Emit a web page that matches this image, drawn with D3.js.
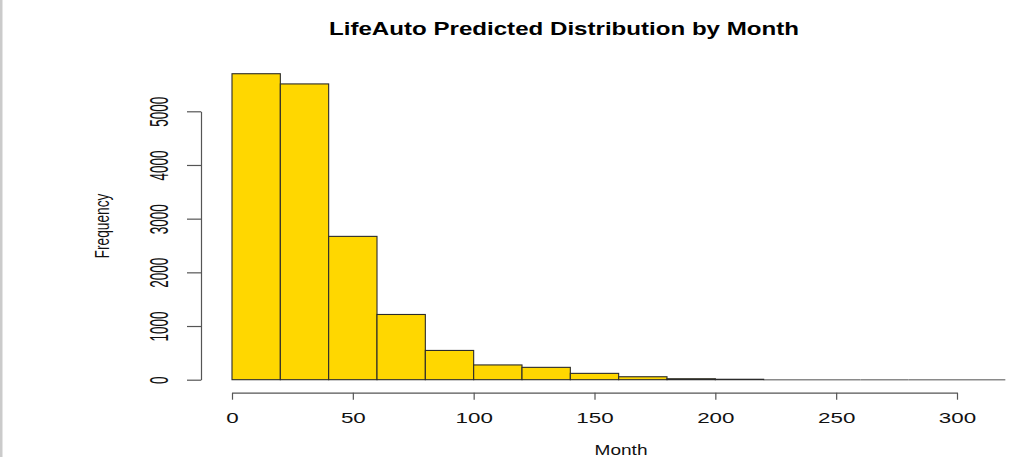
<!DOCTYPE html>
<html>
<head>
<meta charset="utf-8">
<script src="https://cdn.jsdelivr.net/npm/d3@7"></script>
<style>
	body { margin: 0; background: #fff; }
	svg { display: block; font-family: "Liberation Sans", Arial, sans-serif; }
</style>
</head>
<body>
<svg id="chart" width="1009" height="457"></svg>
<script>

// histogram bins (month), 20 wide
const binStarts = [0, 20, 40, 60, 80, 100, 120, 140, 160, 180, 200, 220, 240, 260, 280, 300];
const binWidth = 20;
const counts = [5700, 5510, 2670, 1215, 545, 275, 230, 118, 55, 18, 8, 0, 0, 0, 0, 0];

const xTicks = [0, 50, 100, 150, 200, 250, 300];
const yTicks = [0, 1000, 2000, 3000, 4000, 5000];

const titleText = "LifeAuto Predicted Distribution by Month";
const xLabel = "Month";
const yLabel = "Frequency";

const svg = d3.select("#chart");

// thin grey border at the left edge
svg.append("rect")
	.attr("x", 0).attr("y", 0)
	.attr("width", 2.5).attr("height", 457)
	.attr("fill", "#cbcbcb");

const x = d3.scaleLinear()
	.domain([0, 300])
	.range([232, 957]);

const y = d3.scaleLinear()
	.domain([0, 5000])
	.range([379.7, 111.3]);

const bins = binStarts.map((d, i) => ({ x0: d, x1: d + binWidth, n: counts[i] }));

// empty bins collapse to a flat grey outline on the baseline
svg.append("g")
	.selectAll("line")
	.data(bins.filter(b => b.n === 0))
	.join("line")
		.attr("x1", d => x(d.x0))
		.attr("x2", d => x(d.x1))
		.attr("y1", y(0))
		.attr("y2", y(0))
		.attr("stroke", "#8a8a8a")
		.attr("stroke-width", 1.6);

// bars
svg.append("g")
	.selectAll("rect")
	.data(bins.filter(b => b.n > 0))
	.join("rect")
		.attr("x", d => x(d.x0))
		.attr("width", d => x(d.x1) - x(d.x0))
		.attr("y", d => y(d.n))
		.attr("height", d => y(0) - y(d.n))
		.attr("fill", "#FFD700")
		.attr("stroke", "#2b2b2b")
		.attr("stroke-width", 1.1);

// x axis
const xAxis = svg.append("g")
	.attr("transform", "translate(0,392.7)")
	.call(d3.axisBottom(x)
		.tickValues(xTicks)
		.tickSize(7)
		.tickSizeOuter(0));

xAxis.select(".domain").attr("stroke", "#555").attr("stroke-width", 1.2);
xAxis.selectAll(".tick line").attr("stroke", "#555").attr("stroke-width", 1.2);
xAxis.selectAll(".tick text")
	.attr("y", 30.5)
	.attr("dy", null)
	.attr("font-size", 14)
	.attr("fill", "#111")
	.attr("transform", "scale(1.6,1)");

// y axis
const yAxis = svg.append("g")
	.attr("transform", "translate(201,0)")
	.call(d3.axisLeft(y)
		.tickValues(yTicks)
		.tickFormat(d3.format("d"))
		.tickSize(14)
		.tickSizeOuter(0));

yAxis.select(".domain").attr("stroke", "#555").attr("stroke-width", 1.2);
yAxis.selectAll(".tick line").attr("stroke", "#555").attr("stroke-width", 1.2);
yAxis.selectAll(".tick text")
	.attr("x", 0)
	.attr("dy", null)
	.attr("text-anchor", "middle")
	.attr("font-size", 13.5)
	.attr("fill", "#111")
	.attr("transform", "translate(-33,0) scale(1.85,1) rotate(-90)");

// title
svg.append("text")
	.attr("x", 564)
	.attr("y", 35)
	.attr("text-anchor", "middle")
	.attr("font-size", 18)
	.attr("font-weight", "bold")
	.attr("fill", "#000")
	.attr("textLength", 470)
	.attr("lengthAdjust", "spacingAndGlyphs")
	.text(titleText);

// x label
svg.append("text")
	.attr("x", 621)
	.attr("y", 455)
	.attr("text-anchor", "middle")
	.attr("font-size", 15)
	.attr("fill", "#111")
	.attr("textLength", 53)
	.attr("lengthAdjust", "spacingAndGlyphs")
	.text(xLabel);

// y label
svg.append("text")
	.attr("transform", "translate(109,226) scale(1.4,1) rotate(-90)")
	.attr("text-anchor", "middle")
	.attr("font-size", 14)
	.attr("fill", "#111")
	.attr("textLength", 65)
	.attr("lengthAdjust", "spacingAndGlyphs")
	.text(yLabel);

</script>
</body>
</html>
